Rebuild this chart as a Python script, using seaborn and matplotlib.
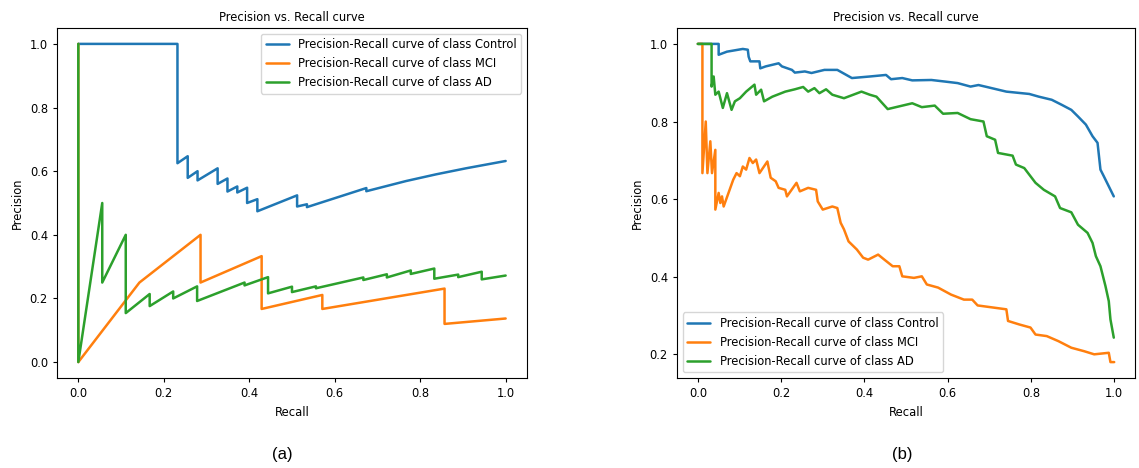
import matplotlib
matplotlib.use("Agg")
import matplotlib.pyplot as plt
import seaborn as sns
import pandas as pd

# ---------------- data ----------------
class_names = ["Control", "MCI", "AD"]
legend_labels = ["Precision-Recall curve of class " + c for c in class_names]
title_text = "Precision vs. Recall curve"
panel_labels = ["(a)", "(b)"]
x_ticks = [0.0, 0.2, 0.4, 0.6, 0.8, 1.0]
y_ticks_a = [0.0, 0.2, 0.4, 0.6, 0.8, 1.0]
y_ticks_b = [0.2, 0.4, 0.6, 0.8, 1.0]

# panel (a): (recall, precision)
control_a = [(0.0, 1.0), (0.232, 1.0), (0.232, 0.625), (0.256, 0.647), (0.256, 0.579),
             (0.279, 0.600), (0.279, 0.571), (0.326, 0.609), (0.326, 0.560), (0.349, 0.577),
             (0.349, 0.536), (0.372, 0.552), (0.372, 0.533), (0.395, 0.548), (0.395, 0.500),
             (0.419, 0.512), (0.419, 0.474), (0.512, 0.524), (0.512, 0.489), (0.535, 0.496),
             (0.535, 0.487), (0.674, 0.547), (0.674, 0.537), (0.767, 0.569), (0.837, 0.590),
             (0.907, 0.609), (1.0, 0.632)]
mci_a = [(0.0, 1.0), (0.0, 0.0), (0.143, 0.25), (0.286, 0.40), (0.286, 0.25), (0.429, 0.333),
         (0.429, 0.167), (0.571, 0.211), (0.571, 0.167), (0.857, 0.231), (0.857, 0.12),
         (1.0, 0.137)]
ad_a = [(0.0, 1.0), (0.0, 0.0), (0.056, 0.50), (0.056, 0.25), (0.111, 0.40), (0.111, 0.154),
        (0.167, 0.214), (0.167, 0.176), (0.222, 0.222), (0.222, 0.20), (0.278, 0.238),
        (0.278, 0.192), (0.389, 0.25), (0.389, 0.241), (0.444, 0.267), (0.444, 0.216),
        (0.50, 0.237), (0.50, 0.22), (0.556, 0.238), (0.556, 0.232), (0.667, 0.266),
        (0.667, 0.258), (0.722, 0.276), (0.722, 0.266), (0.778, 0.288), (0.778, 0.277),
        (0.833, 0.294), (0.833, 0.262), (0.889, 0.275), (0.889, 0.267), (0.944, 0.284),
        (0.944, 0.260), (1.0, 0.272)]

# panel (b): (recall, precision)
control_b = [(0.0, 1.0), (0.05, 1.0), (0.05, 0.972), (0.07, 0.980), (0.108, 0.987), (0.12, 0.985),
             (0.122, 0.967), (0.126, 0.955), (0.148, 0.955), (0.150, 0.937), (0.163, 0.942),
             (0.194, 0.950), (0.202, 0.942), (0.226, 0.933), (0.233, 0.926), (0.257, 0.929),
             (0.273, 0.925), (0.304, 0.933), (0.323, 0.933), (0.335, 0.933), (0.370, 0.912),
             (0.413, 0.916), (0.452, 0.920), (0.464, 0.909), (0.491, 0.912), (0.515, 0.906),
             (0.561, 0.907), (0.593, 0.903), (0.624, 0.899), (0.655, 0.890), (0.674, 0.894),
             (0.694, 0.889), (0.741, 0.877), (0.796, 0.871), (0.819, 0.864), (0.850, 0.856),
             (0.874, 0.843), (0.897, 0.830), (0.913, 0.813), (0.932, 0.792), (0.948, 0.762),
             (0.960, 0.745), (0.967, 0.676), (0.975, 0.659), (0.987, 0.633), (0.999, 0.607)]
mci_b = [(0.0, 1.0), (0.011, 1.0), (0.011, 0.667), (0.019, 0.80), (0.023, 0.667), (0.030, 0.749),
         (0.034, 0.667), (0.042, 0.727), (0.042, 0.573), (0.050, 0.616), (0.054, 0.590),
         (0.058, 0.607), (0.062, 0.581), (0.085, 0.650), (0.093, 0.667), (0.101, 0.659),
         (0.108, 0.684), (0.116, 0.676), (0.124, 0.706), (0.132, 0.693), (0.140, 0.702),
         (0.148, 0.667), (0.167, 0.697), (0.175, 0.655), (0.187, 0.646), (0.194, 0.629),
         (0.210, 0.624), (0.214, 0.607), (0.237, 0.642), (0.245, 0.620), (0.265, 0.629),
         (0.284, 0.624), (0.288, 0.594), (0.300, 0.573), (0.323, 0.581), (0.335, 0.577),
         (0.343, 0.539), (0.351, 0.522), (0.362, 0.491), (0.382, 0.470), (0.397, 0.449),
         (0.409, 0.444), (0.433, 0.457), (0.448, 0.444), (0.468, 0.427), (0.484, 0.427),
         (0.491, 0.401), (0.519, 0.397), (0.538, 0.401), (0.550, 0.380), (0.577, 0.372),
         (0.608, 0.354), (0.639, 0.341), (0.659, 0.341), (0.672, 0.326), (0.741, 0.316),
         (0.745, 0.286), (0.772, 0.277), (0.799, 0.269), (0.811, 0.251), (0.838, 0.247),
         (0.866, 0.234), (0.897, 0.217), (0.928, 0.208), (0.952, 0.200), (0.987, 0.204),
         (0.991, 0.180), (1.0, 0.180)]
ad_b = [(0.0, 1.0), (0.033, 1.0), (0.033, 0.890), (0.038, 0.916), (0.042, 0.869), (0.050, 0.877),
        (0.060, 0.835), (0.070, 0.873), (0.081, 0.830), (0.089, 0.852), (0.101, 0.860),
        (0.116, 0.877), (0.136, 0.895), (0.140, 0.869), (0.152, 0.882), (0.159, 0.852),
        (0.179, 0.864), (0.210, 0.877), (0.233, 0.883), (0.253, 0.889), (0.265, 0.877),
        (0.280, 0.886), (0.292, 0.873), (0.308, 0.883), (0.323, 0.869), (0.351, 0.860),
        (0.393, 0.877), (0.413, 0.869), (0.429, 0.864), (0.456, 0.832), (0.515, 0.847),
        (0.538, 0.837), (0.569, 0.841), (0.589, 0.820), (0.624, 0.822), (0.655, 0.806),
        (0.686, 0.800), (0.694, 0.762), (0.714, 0.753), (0.721, 0.719), (0.756, 0.712),
        (0.764, 0.689), (0.784, 0.680), (0.811, 0.642), (0.831, 0.624), (0.858, 0.607),
        (0.870, 0.577), (0.897, 0.566), (0.913, 0.534), (0.936, 0.513), (0.948, 0.487),
        (0.956, 0.453), (0.967, 0.427), (0.979, 0.376), (0.987, 0.337), (0.991, 0.290),
        (0.999, 0.243)]

# ---------------- style ----------------
sns.set_style("ticks")
FS = 8.3
plt.rcParams.update({
    "font.family": ["DejaVu Sans"],
    "font.size": FS,
    "axes.edgecolor": "black",
    "axes.linewidth": 0.8,
    "xtick.color": "black",
    "ytick.color": "black",
    "text.color": "black",
    "axes.labelcolor": "black",
    "xtick.major.size": 3.0,
    "ytick.major.size": 3.0,
    "xtick.major.width": 0.8,
    "ytick.major.width": 0.8,
    "xtick.labelsize": FS,
    "ytick.labelsize": FS,
    "legend.fontsize": FS,
})

palette = sns.color_palette("tab10", 3)


def make_df(series):
    rows = []
    for lab, pts in zip(legend_labels, series):
        for r, p in pts:
            rows.append({"Recall": r, "Precision": p, "curve": lab})
    return pd.DataFrame(rows)


fig = plt.figure(figsize=(11.39, 4.68), dpi=100)
ax_a = fig.add_axes([0.0500, 0.1923, 0.4127, 0.7479])
ax_b = fig.add_axes([0.5944, 0.1923, 0.4021, 0.7479])

for ax, series, yt, loc in [
    (ax_a, [control_a, mci_a, ad_a], y_ticks_a, "upper right"),
    (ax_b, [control_b, mci_b, ad_b], y_ticks_b, "lower left"),
]:
    df = make_df(series)
    sns.lineplot(data=df, x="Recall", y="Precision", hue="curve",
                 hue_order=legend_labels, palette=palette, estimator=None,
                 sort=False, linewidth=1.8, ax=ax)
    ax.set_xticks(x_ticks)
    ax.set_yticks(yt)
    ax.set_title(title_text, fontsize=FS, pad=5)
    ax.set_xlabel("Recall", fontsize=FS)
    ax.set_ylabel("Precision", fontsize=FS)
    leg = ax.legend(loc=loc, fontsize=FS, frameon=True)
    leg.set_title(None)

ax_a.set_ylim(-0.05, 1.05)
ax_b.set_ylim(0.139, 1.041)

fig.text(0.2476, 0.028, panel_labels[0], ha="center", va="center",
         fontsize=12, family=["Liberation Sans", "DejaVu Sans"])
fig.text(0.792, 0.028, panel_labels[1], ha="center", va="center",
         fontsize=12, family=["Liberation Sans", "DejaVu Sans"])

fig.savefig("out.png", dpi=100)
